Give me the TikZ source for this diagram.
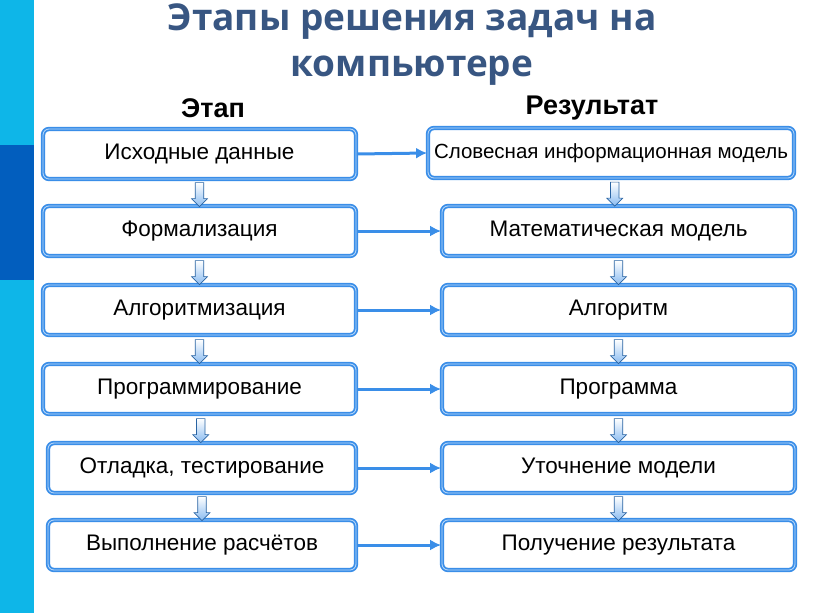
\documentclass[tikz,border=0pt]{standalone}
\usepackage{fontspec}
\setmainfont{Liberation Sans}
\newfontfamily\titlefont{Open Sans}
\usetikzlibrary{shapes.arrows,arrows.meta}
\definecolor{bord}{RGB}{58,142,232}
\definecolor{bordin}{RGB}{190,220,250}
\definecolor{cyanstrip}{RGB}{14,182,232}
\definecolor{darkstrip}{RGB}{2,94,190}
\definecolor{titlec}{RGB}{56,86,130}
\tikzset{
 box/.style={draw=bord, double=bordin, double distance=0.8pt, line width=1.8pt, rounded corners=6pt, fill=white, minimum height=50pt, font=\fontsize{22.5}{26}\selectfont},
 harr/.style={draw=bord, line width=3pt, -{Latex[length=11pt,width=11pt]}},
 varr/.style={single arrow, draw=bord!70!black, line width=0.6pt, shape border rotate=270, minimum height=24pt, minimum width=16pt, single arrow head extend=2pt, inner sep=2pt, top color=white, bottom color=bord!60},
}
\begin{document}
\begin{tikzpicture}[x=1pt,y=-1pt]
\useasboundingbox (0,0) rectangle (816,613);
\fill[cyanstrip] (0,0) rectangle (34,613);
\fill[darkstrip] (0,145) rectangle (34,280);
\node[font=\titlefont\bfseries\fontsize{37}{46}\selectfont, text=titlec, align=center] (title) at (412,45) {Этапы решения задач на\\компьютере};
\node[font=\bfseries\fontsize{27}{30}\selectfont] (h1) at (213,108) {Этап};
\node[font=\bfseries\fontsize{27}{30}\selectfont] (h2) at (592,108) {Результат};
% left
\node[box, minimum width=313pt] (l1) at (199.5,154) {Исходные данные};
\node[box, minimum width=313pt] (l2) at (199.5,231) {Формализация};
\node[box, minimum width=313pt] (l3) at (199.5,310) {Алгоритмизация};
\node[box, minimum width=313pt] (l4) at (199.5,389) {Программирование};
\node[box, minimum width=308pt] (l5) at (202,468) {Отладка, тестирование};
\node[box, minimum width=308pt] (l6) at (202,545) {Выполнение расчётов};
% right
\node[box, minimum width=366pt, font=\fontsize{20.5}{24}\selectfont] (r1) at (611,153) {Словесная информационная модель};
\node[box, minimum width=353pt] (r2) at (618.5,231) {Математическая модель};
\node[box, minimum width=353pt] (r3) at (618.5,310) {Алгоритм};
\node[box, minimum width=353pt] (r4) at (618.5,389) {Программа};
\node[box, minimum width=353pt] (r5) at (618.5,468) {Уточнение модели};
\node[box, minimum width=353pt] (r6) at (618.5,545) {Получение результата};
\foreach \i in {1,...,6}{\draw[harr] (l\i.east) -- (r\i.west);}
\foreach \a/\b in {1/2,2/3,3/4,4/5,5/6}{
 \path (l\a.south) -- (l\b.north) node[midway, varr] (vl\a) {};
 \path (r\a.south) -- (r\b.north) node[midway, varr] (vr\a) {};
}
\end{tikzpicture}
\end{document}
